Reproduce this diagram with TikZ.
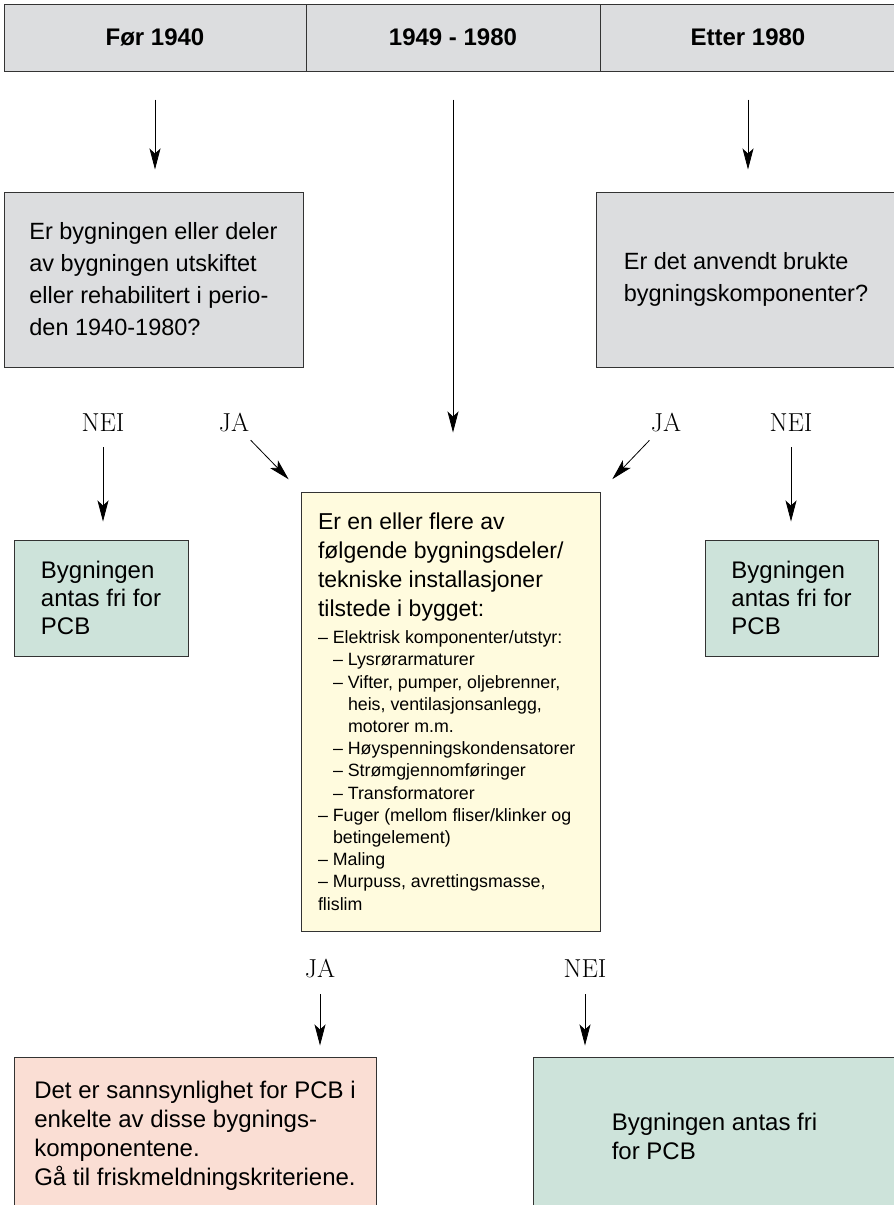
\documentclass[tikz,border=0pt]{standalone}
\usepackage{fontspec}
\setsansfont{Liberation Sans}
\usetikzlibrary{arrows.meta}
\definecolor{hdrgray}{RGB}{220,221,223}
\definecolor{cream}{RGB}{255,251,222}
\definecolor{mint}{RGB}{205,227,218}
\definecolor{rose}{RGB}{250,222,212}
\newcommand{\ind}{\hspace*{15pt}}
\begin{document}
\begin{tikzpicture}[x=1pt,y=-1pt,
  box/.style={draw=black!80,line width=1pt,align=left,inner sep=0pt,
    font=\sffamily\fontsize{23.5}{32}\selectfont},
  hdr/.style={box,fill=hdrgray,align=center,minimum height=67pt,
    font=\sffamily\bfseries\fontsize{24}{28}\selectfont},
  lbl/.style={inner sep=0pt,font=\fontsize{26}{30}\selectfont},
  arr/.style={-{Stealth[length=21pt,width=11pt,inset=5pt]},line width=0.8pt}]
  \useasboundingbox (0,0) rectangle (894,1205);
  \node[hdr,minimum width=302pt] (h1) at (155,37.5) {Før 1940};
  \node[hdr,minimum width=294pt] (h2) at (453,37.5) {1949 - 1980};
  \node[hdr,minimum width=296pt] (h3) at (748,37.5) {Etter 1980};
  \node[box,fill=hdrgray,minimum width=299pt,minimum height=175pt] (q1) at (153.5,279.5)
    {Er bygningen eller deler\\av bygningen utskiftet\\eller rehabilitert i perio-\\den 1940-1980?};
  \node[box,fill=hdrgray,minimum width=300pt,minimum height=175pt] (q2) at (746,279.5)
    {Er det anvendt brukte\\bygningskomponenter?};
  \node[lbl] (nei1) at (103,423) {NEI};
  \node[lbl] (ja1) at (234,423) {JA};
  \node[lbl] (ja2) at (666,423) {JA};
  \node[lbl] (nei2) at (791,423) {NEI};
  \node[box,fill=mint,minimum width=174pt,minimum height=116pt,
    font=\sffamily\fontsize{24}{28}\selectfont] (g1) at (101,598) {Bygningen\\antas fri for\\PCB};
  \node[box,fill=mint,minimum width=173pt,minimum height=116pt,
    font=\sffamily\fontsize{24}{28}\selectfont] (g2) at (791.5,598) {Bygningen\\antas fri for\\PCB};
  \node[box,fill=cream,inner xsep=17pt,text width=265pt,minimum height=439pt] (mid) at (450.5,711.5)
    {{\fontsize{23}{29}\selectfont\spaceskip=0pt\xspaceskip=0pt
      Er en eller flere av\par følgende bygningsdeler/\par
      tekniske installasjoner\par tilstede i bygget:\par}
     \vspace{5pt}
     {\fontsize{17.8}{22.2}\selectfont\spaceskip=0pt\xspaceskip=0pt
      – Elektrisk komponenter/utstyr:\par
      \ind– Lysrørarmaturer\par
      \ind– Vifter, pumper, oljebrenner,\par
      \ind\ind heis, ventilasjonsanlegg,\par
      \ind\ind motorer m.m.\par
      \ind– Høyspenningskondensatorer\par
      \ind– Strømgjennomføringer\par
      \ind– Transformatorer\par
      – Fuger (mellom fliser/klinker og\par
      \ind betingelement)\par
      – Maling\par
      – Murpuss, avrettingsmasse,\par
      flislim\par}};
  \node[lbl] (ja3) at (320,969) {JA};
  \node[lbl] (nei3) at (585,969) {NEI};
  \node[box,fill=rose,minimum width=362pt,minimum height=158pt,
    font=\sffamily\fontsize{24}{29}\selectfont] (res) at (195,1136)
    {Det er sannsynlighet for PCB i\\enkelte av disse bygnings-\\komponentene.\\Gå til friskmeldningskriteriene.};
  \node[box,fill=mint,minimum width=363pt,minimum height=158pt,
    font=\sffamily\fontsize{24}{29}\selectfont] (g3) at (714.5,1136) {Bygningen antas fri\\for PCB};
  \draw[arr,shorten <=28pt,shorten >=22pt] (h1.south) -- (h1.south |- q1.north);
  \draw[arr,shorten <=28pt,shorten >=59pt] (h2.south) -- (h2.south |- mid.north);
  \draw[arr,shorten <=28pt,shorten >=22pt] (h3.south) -- (h3.south |- q2.north);
  \draw[arr,shorten <=24pt,shorten >=18pt] (nei1.center) -- (nei1.center |- g1.north);
  \draw[arr,shorten <=24pt,shorten >=18pt] (nei2.center) -- (nei2.center |- g2.north);
  \draw[arr,shorten <=24pt,shorten >=17pt] (ja1.center) -- (mid.north west);
  \draw[arr,shorten <=24pt,shorten >=17pt] (ja2.center) -- (mid.north east);
  \draw[arr,shorten <=25pt,shorten >=11pt] (ja3.center) -- (ja3.center |- res.north);
  \draw[arr,shorten <=25pt,shorten >=11pt] (nei3.center) -- (nei3.center |- g3.north);
\end{tikzpicture}
\end{document}
